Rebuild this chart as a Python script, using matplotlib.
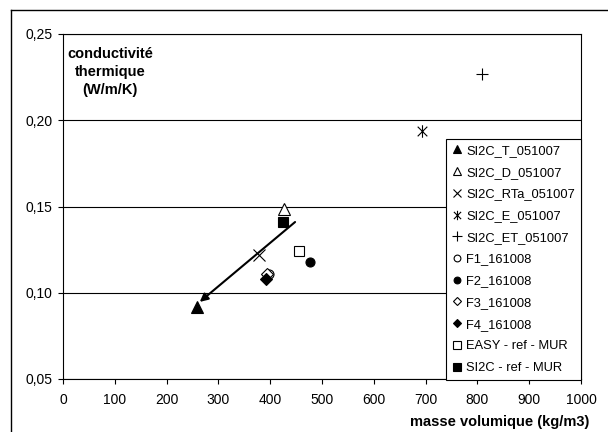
import matplotlib
matplotlib.use('Agg')
import matplotlib.pyplot as plt
from matplotlib.path import Path
from matplotlib.ticker import FuncFormatter

matplotlib.rcParams['font.family'] = ['Liberation Sans', 'DejaVu Sans']
matplotlib.rcParams['font.size'] = 10.

# data (masse volumique kg/m3, conductivite W/m/K)
labels = ['SI2C_T_051007', 'SI2C_D_051007', 'SI2C_RTa_051007', 'SI2C_E_051007',
          'SI2C_ET_051007', 'F1_161008', 'F2_161008', 'F3_161008', 'F4_161008',
          'EASY - ref - MUR', 'SI2C - ref - MUR']
density = [259, 427, 378, 693, 809, 398, 477, 394, 392, 456, 425]
conductivity = [0.092, 0.1486, 0.122, 0.194, 0.227, 0.111, 0.118, 0.111, 0.108, 0.124, 0.141]

# trend arrow (start -> end)
arrow_start = (448, 0.141)
arrow_end = (264, 0.0947)

# Excel-like asterisk: an X with a vertical bar
star = Path([(-1, -1), (1, 1), (-1, 1), (1, -1), (0, -1.3), (0, 1.3)],
            [Path.MOVETO, Path.LINETO, Path.MOVETO, Path.LINETO, Path.MOVETO, Path.LINETO])

styles = [
    dict(marker='^', mfc='black', ms=8),
    dict(marker='^', mfc='white', ms=8),
    dict(marker='x', mfc='none', ms=8),
    dict(marker=star, mfc='none', ms=9),
    dict(marker='+', mfc='none', ms=9),
    dict(marker='o', mfc='white', ms=6.5),
    dict(marker='o', mfc='black', ms=6.5),
    dict(marker='D', mfc='white', ms=6),
    dict(marker='D', mfc='black', ms=6),
    dict(marker='s', mfc='white', ms=7),
    dict(marker='s', mfc='black', ms=7),
]

fig = plt.figure(figsize=(6.08, 4.32), dpi=100)
ax = fig.add_axes([63 / 608, 53 / 432, 518 / 608, 345 / 432])

for lab, x, y, st in zip(labels, density, conductivity, styles):
    ax.plot([x], [y], linestyle='none', color='black', mec='black', mew=0.8,
            label=lab, **st)

ax.annotate('', xy=arrow_end, xytext=arrow_start,
            arrowprops=dict(arrowstyle='-|>', color='black', lw=1.5,
                            mutation_scale=12, shrinkA=0, shrinkB=0))

ax.set_xlim([0, 1000])
ax.set_ylim([0.05, 0.25])
ax.set_xticks(range(0, 1001, 100))
ax.set_yticks([0.05, 0.10, 0.15, 0.20, 0.25])
ax.yaxis.set_major_formatter(FuncFormatter(lambda v, p: ('%.2f' % v).replace('.', ',')))
ax.tick_params(direction='out', length=3.6, width=0.8, colors='black', labelsize=10)
ax.tick_params(axis='y', pad=4)
ax.tick_params(axis='x', pad=6.5)
ax.grid(axis='y', color='black', lw=0.8)
ax.set_axisbelow(True)
for sp in ax.spines.values():
    sp.set_linewidth(0.8)
    sp.set_color('black')

fig.text(110 / 608, 1 - 72 / 432, 'conductivité\nthermique\n(W/m/K)', ha='center',
         va='center', fontweight='bold', fontsize=10.5, linespacing=1.32)
fig.text(500 / 608, 1 - 422 / 432, 'masse volumique (kg/m3)', ha='center', va='center',
         fontweight='bold', fontsize=10.5)

leg = ax.legend(loc='upper right', bbox_to_anchor=(581 / 608, 1 - 139 / 432),
                bbox_transform=fig.transFigure, frameon=True, fancybox=False,
                edgecolor='black', framealpha=1, handlelength=0.8, handletextpad=0.3,
                labelspacing=0.75, borderpad=0.45, borderaxespad=0, fontsize=9.3,
                markerscale=0.75)
leg.get_frame().set_linewidth(0.8)

# outer chart-area border (only top and left edges are visible)
fig.add_artist(plt.Line2D([11 / 608, 11 / 608], [0, 1 - 10 / 432], color='black', lw=1,
                          transform=fig.transFigure))
fig.add_artist(plt.Line2D([11 / 608, 1], [1 - 10 / 432, 1 - 10 / 432], color='black',
                          lw=1, transform=fig.transFigure))

fig.savefig('out.png', dpi=100)
